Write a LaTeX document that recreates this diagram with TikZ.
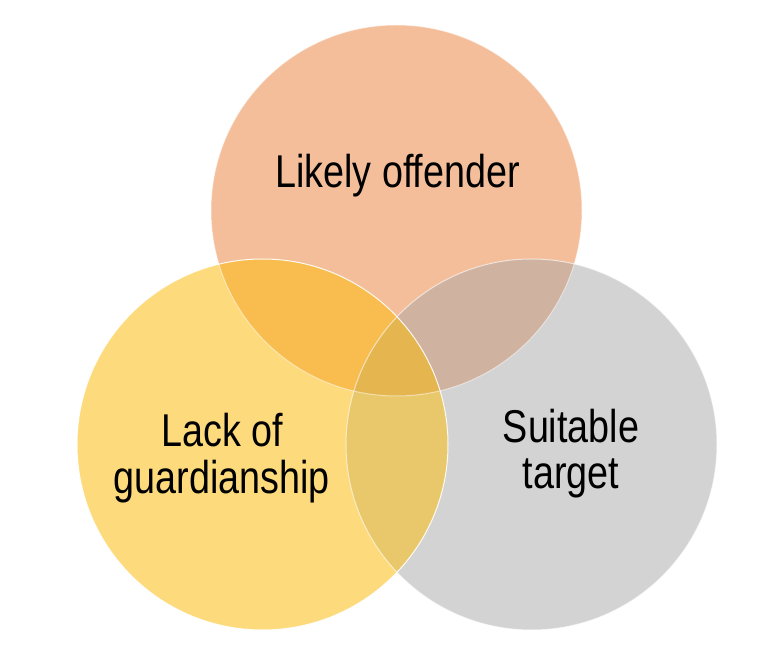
\documentclass[tikz,border=0pt]{standalone}
\usepackage{fontspec}
\newfontfamily\narrowsans[FakeStretch=0.82]{Liberation Sans}
\definecolor{topc}{HTML}{F4BE9A}
\definecolor{leftc}{HTML}{FDDA7C}
\definecolor{rightc}{HTML}{D3D3D3}
\definecolor{tlc}{HTML}{F8BD4E}
\definecolor{trc}{HTML}{CFB2A0}
\definecolor{lrc}{HTML}{E8C86A}
\definecolor{tlrc}{HTML}{E5B650}
\begin{document}
\begin{tikzpicture}[x=1pt,y=1pt,
  lbl/.style={font=\narrowsans\fontsize{46}{47}\selectfont, align=center, text=black, inner sep=0pt},
  rim/.style={draw=white, line width=1pt}]
\useasboundingbox (0,0) rectangle (782,659);
\def\R{185.5}
\coordinate (T) at (396.5,448.5);
\coordinate (L) at (262.5,214.5);
\coordinate (Rc) at (531.5,214.5);
% base circles
\fill[topc] (T) circle (\R);
\fill[rightc] (Rc) circle (\R);
\fill[leftc] (L) circle (\R);
% pairwise overlaps
\begin{scope}
  \clip (T) circle (\R);
  \fill[tlc] (L) circle (\R);
  \fill[trc] (Rc) circle (\R);
\end{scope}
\begin{scope}
  \clip (L) circle (\R);
  \fill[lrc] (Rc) circle (\R);
\end{scope}
\begin{scope}
  \clip (T) circle (\R);
  \clip (L) circle (\R);
  \fill[tlrc] (Rc) circle (\R);
\end{scope}
% rims
\draw[rim, opacity=0.5] (T) circle (\R);
\draw[rim, opacity=0.6] (Rc) circle (\R);
\draw[rim, opacity=0.9] (L) circle (\R);
% labels
\node[lbl, anchor=base] (lo) at (397.5,471) {Likely offender};
\node[lbl, anchor=base] (lg1) at (222,212) {Lack of};
\node[lbl, anchor=base] (lg2) at (222,165) {guardianship};
\node[lbl, anchor=base] (st1) at (571,216) {Suitable};
\node[lbl, anchor=base] (st2) at (571,170) {target};
\end{tikzpicture}
\end{document}
